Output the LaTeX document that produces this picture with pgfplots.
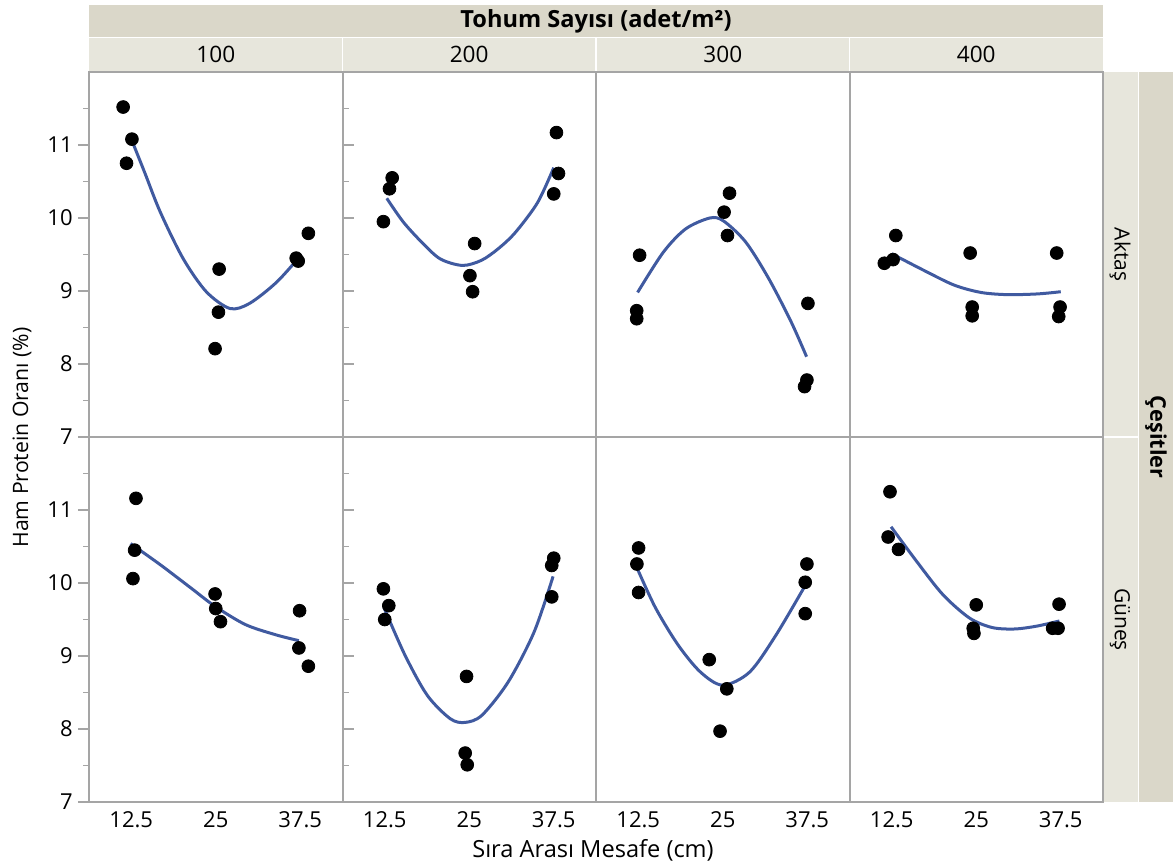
\documentclass[border=0pt]{standalone}
\usepackage{fontspec}
\setmainfont{Open Sans}
\usepackage{pgfplots}
\pgfplotsset{compat=1.18}
\definecolor{framegray}{RGB}{165,165,165}
\definecolor{fitblue}{RGB}{64,90,160}
\definecolor{stripdark}{RGB}{218,215,201}
\definecolor{striplight}{RGB}{231,230,220}
\pgfplotsset{
  panel/.style={scale only axis, width=126.75pt, height=182.5pt, anchor=north west,
    xmin=6.25, xmax=43.75, ymin=7, ymax=12,
    axis line style={draw=framegray, line width=1pt},
    xtick={12.5,25,37.5}, ytick={7,8,9,10,11}, minor ytick={7.5,8.5,9.5,10.5,11.5},
    tick align=outside, major tick length=5.5pt, minor tick length=3pt,
    tick style={draw=framegray, line width=0.8pt},
    xtick style={draw=none},
    /pgf/number format/assume math mode=true,
    ticklabel style={font=\fontsize{11}{13}\selectfont, text=black},
    xticklabel style={yshift=4pt},
    yticklabel style={inner sep=2.5pt},
  },
  toprow/.style={xticklabels={}},
  othercol/.style={ytick=\empty, minor ytick=\empty},
  pts/.style={only marks, mark=*, mark size=3.2pt, black},
  fit/.style={fitblue, line width=1.5pt, smooth, no marks},
}
\begin{document}
\begin{tikzpicture}
\path[use as bounding box] (0pt,0pt) rectangle (586.5pt,-432.5pt);
% strips
\fill[stripdark] (44.5pt,-2.5pt) rectangle (551.5pt,-18.5pt);
\fill[striplight] (44.5pt,-19pt) rectangle (170.9pt,-35.5pt);
\fill[striplight] (171.6pt,-19pt) rectangle (297.6pt,-35.5pt);
\fill[striplight] (298.4pt,-19pt) rectangle (424.4pt,-35.5pt);
\fill[striplight] (425.1pt,-19pt) rectangle (551.5pt,-35.5pt);
\fill[striplight] (551.5pt,-36pt) rectangle (569pt,-218pt);
\fill[striplight] (551.5pt,-219pt) rectangle (569pt,-401pt);
\fill[stripdark] (569.5pt,-36pt) rectangle (586.5pt,-401pt);
\node[font=\fontsize{11.8}{13}\selectfont\bfseries] at (298pt,-10.5pt) {Tohum Sayısı (adet/m²)};
\foreach \xx/\lab in {107.9/100,234.6/200,361.4/300,488.1/400}
  \node[font=\fontsize{11.3}{13}\selectfont] at (\xx pt,-27.25pt) {\lab};
\node[rotate=-90, font=\fontsize{10.5}{12}\selectfont] at (560pt,-127.25pt) {Aktaş};
\node[rotate=-90, font=\fontsize{10.5}{12}\selectfont] at (560pt,-309.75pt) {Güneş};
\node[rotate=-90, font=\fontsize{10.8}{12}\selectfont\bfseries] at (578pt,-218.5pt) {Çeşitler};
\node[rotate=90, font=\fontsize{10.6}{12}\selectfont] at (11pt,-218.75pt) {Ham Protein Oranı (\%)};
\node[font=\fontsize{11.8}{13}\selectfont] at (296.5pt,-425pt) {Sıra Arası Mesafe (cm)};

% ---------- Row 1: Aktaş ----------
\begin{axis}[panel, toprow, at={(44.5pt,-36pt)}]
\addplot[pts] coordinates {(11.3,11.52) (12.6,11.08) (11.8,10.75) (25.5,9.30) (25.4,8.71) (24.9,8.21) (37.2,9.41) (36.9,9.45) (38.7,9.79)};
\addplot[fit] coordinates {(12.6,11.06) (14.5,10.62) (16.8,10.08) (20.2,9.44) (23.6,8.99) (27.1,8.76) (30,8.83) (34,9.12) (37.5,9.48)};
\end{axis}
\begin{axis}[panel, toprow, othercol, at={(171.25pt,-36pt)}]
\addplot[pts] coordinates {(12.3,9.95) (13.2,10.40) (13.6,10.55) (25.8,9.65) (25.1,9.21) (25.5,8.99) (37.9,11.17) (38.2,10.61) (37.5,10.33)};
\addplot[fit] coordinates {(12.8,10.27) (15.2,9.95) (17.95,9.67) (20.7,9.44) (24.0,9.35) (26.8,9.42) (29.3,9.58) (31.8,9.80) (35.1,10.21) (37.5,10.69)};
\end{axis}
\begin{axis}[panel, toprow, othercol, at={(298pt,-36pt)}]
\addplot[pts] coordinates {(12.7,9.49) (12.27,8.73) (12.27,8.62) (26.0,10.34) (25.2,10.08) (25.7,9.76) (37.6,8.83) (37.45,7.78) (37.1,7.69)};
\addplot[fit] coordinates {(12.4,8.98) (16.2,9.53) (19.5,9.85) (23.1,10.0) (25.1,9.96) (28.4,9.67) (31.8,9.17) (35.1,8.58) (37.4,8.1)};
\end{axis}
\begin{axis}[panel, toprow, othercol, at={(424.75pt,-36pt)}]
\addplot[pts] coordinates {(11.4,9.38) (12.7,9.43) (13.1,9.76) (24.1,9.52) (24.4,8.78) (24.4,8.66) (36.9,9.52) (37.4,8.78) (37.2,8.65)};
\addplot[fit] coordinates {(12.5,9.51) (17.3,9.28) (21.75,9.08) (25.7,8.98) (29.6,8.95) (34.1,8.96) (37.5,8.99)};
\end{axis}

% ---------- Row 2: Güneş ----------
\begin{axis}[panel, at={(44.5pt,-218.5pt)}]
\addplot[pts] coordinates {(13.2,11.16) (13.0,10.45) (12.75,10.06) (24.9,9.85) (25.0,9.65) (25.7,9.47) (37.4,9.62) (37.3,9.11) (38.7,8.86)};
\addplot[fit] coordinates {(12.4,10.54) (16.8,10.25) (21.35,9.93) (24.9,9.68) (29.4,9.43) (33.9,9.29) (37.3,9.21)};
\end{axis}
\begin{axis}[panel, othercol, at={(171.25pt,-218.5pt)}]
\addplot[pts] coordinates {(12.3,9.92) (13.1,9.69) (12.5,9.50) (24.6,8.72) (24.4,7.67) (24.7,7.51) (37.5,10.34) (37.2,10.24) (37.2,9.81)};
\addplot[fit] coordinates {(12.4,9.66) (15.5,9.01) (18.8,8.46) (22.2,8.14) (24.4,8.09) (26.9,8.19) (30.8,8.65) (34.6,9.33) (37.4,10.09)};
\end{axis}
\begin{axis}[panel, othercol, at={(298pt,-218.5pt)}]
\addplot[pts] coordinates {(12.55,10.48) (12.3,10.26) (12.55,9.87) (23.0,8.95) (25.6,8.55) (24.6,7.97) (37.45,10.26) (37.2,10.01) (37.2,9.58)};
\addplot[fit] coordinates {(12.3,10.21) (15.05,9.66) (18.4,9.15) (21.7,8.78) (25.0,8.6) (28.98,8.78) (32.9,9.29) (37.35,9.99)};
\end{axis}
\begin{axis}[panel, othercol, at={(424.75pt,-218.5pt)}]
\addplot[pts] coordinates {(12.24,11.25) (11.96,10.63) (13.5,10.46) (25.0,9.70) (24.55,9.38) (24.66,9.31) (37.25,9.71) (36.3,9.38) (37.1,9.38)};
\addplot[fit] coordinates {(12.4,10.77) (16.15,10.30) (20.07,9.84) (24.0,9.52) (27.35,9.39) (30.7,9.37) (34.0,9.41) (37.3,9.48)};
\end{axis}
\end{tikzpicture}
\end{document}
